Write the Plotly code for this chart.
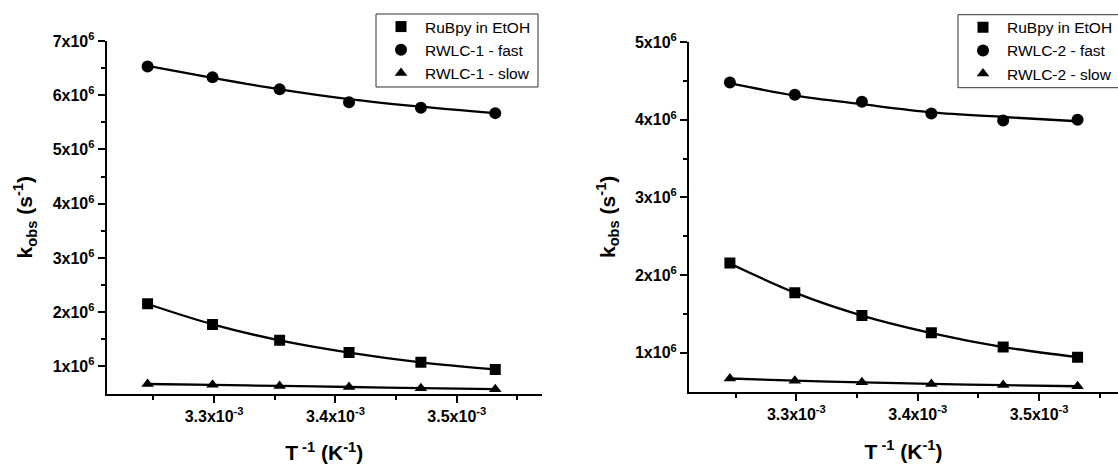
import plotly.graph_objects as go

# ---------------- data ----------------
inv_T = [3.2452e-3, 3.2987e-3, 3.3540e-3, 3.4112e-3, 3.4704e-3, 3.5317e-3]

# measured points
rubpy = [2.155e6, 1.772e6, 1.480e6, 1.257e6, 1.075e6, 0.944e6]
rwlc1_fast = [6.53e6, 6.33e6, 6.11e6, 5.87e6, 5.77e6, 5.67e6]
rwlc1_slow = [0.675e6, 0.66e6, 0.64e6, 0.62e6, 0.595e6, 0.58e6]
rwlc2_fast = [4.48e6, 4.32e6, 4.23e6, 4.08e6, 3.99e6, 4.00e6]
rwlc2_slow = [0.67e6, 0.64e6, 0.62e6, 0.60e6, 0.585e6, 0.57e6]

# fitted curves (at the same abscissae)
rubpy_fit = [2.150e6, 1.775e6, 1.480e6, 1.255e6, 1.075e6, 0.944e6]
rwlc1_fast_fit = [6.54e6, 6.32e6, 6.11e6, 5.93e6, 5.79e6, 5.67e6]
rwlc1_slow_fit = [0.675e6, 0.658e6, 0.64e6, 0.62e6, 0.598e6, 0.582e6]
rwlc2_fast_fit = [4.47e6, 4.31e6, 4.20e6, 4.095e6, 4.035e6, 3.98e6]
rwlc2_slow_fit = [0.67e6, 0.642e6, 0.62e6, 0.60e6, 0.585e6, 0.57e6]

names_left = ["RuBpy in EtOH", "RWLC-1 - fast", "RWLC-1 - slow"]
names_right = ["RuBpy in EtOH", "RWLC-2 - fast", "RWLC-2 - slow"]

x_tickvals = [3.3e-3, 3.4e-3, 3.5e-3]
x_ticktext = ["3.3x10<sup>-3</sup>", "3.4x10<sup>-3</sup>", "3.5x10<sup>-3</sup>"]
x_minor = [3.25e-3, 3.35e-3, 3.45e-3, 3.55e-3]

yl_tickvals = [1e6, 2e6, 3e6, 4e6, 5e6, 6e6, 7e6]
yl_ticktext = ["1x10<sup>6</sup>", "2x10<sup>6</sup>", "3x10<sup>6</sup>", "4x10<sup>6</sup>",
               "5x10<sup>6</sup>", "6x10<sup>6</sup>", "7x10<sup>6</sup>"]
yl_minor = [1.5e6, 2.5e6, 3.5e6, 4.5e6, 5.5e6, 6.5e6]

yr_tickvals = [1e6, 2e6, 3e6, 4e6, 5e6]
yr_ticktext = ["1x10<sup>6</sup>", "2x10<sup>6</sup>", "3x10<sup>6</sup>", "4x10<sup>6</sup>",
               "5x10<sup>6</sup>"]
yr_minor = [1.5e6, 2.5e6, 3.5e6, 4.5e6]

# ---------------- figure ----------------
W, H = 1118, 468
FONT = "Arial, Liberation Sans, sans-serif"
symbols = ["square", "circle", "triangle-up"]
msizes = [11, 12, 11]

fig = go.Figure()


def add_panel(points, fits, names, xa, ya, legend_id):
    for s, f, name, sym, ms in zip(points, fits, names, symbols, msizes):
        fig.add_trace(go.Scatter(
            x=inv_T, y=f, mode="lines", xaxis=xa, yaxis=ya,
            line=dict(color="black", width=2.3, shape="spline", smoothing=0.9),
            showlegend=False, hoverinfo="skip"))
        fig.add_trace(go.Scatter(
            x=inv_T, y=s, mode="markers", name=name, xaxis=xa, yaxis=ya,
            marker=dict(symbol=sym, size=ms, color="black"),
            legend=legend_id))


add_panel([rubpy, rwlc1_fast, rwlc1_slow], [rubpy_fit, rwlc1_fast_fit, rwlc1_slow_fit],
          names_left, "x", "y", "legend")
add_panel([rubpy, rwlc2_fast, rwlc2_slow], [rubpy_fit, rwlc2_fast_fit, rwlc2_slow_fit],
          names_right, "x2", "y2", "legend2")

tickfont = dict(family=FONT, size=16, color="black", weight="bold")
titlefont = dict(family=FONT, size=21, color="black", weight="bold")

common_axis = dict(
    showgrid=False, zeroline=False, showline=True, linecolor="black",
    linewidth=2, ticks="outside", ticklen=7, tickwidth=2, tickcolor="black",
    tickfont=tickfont, mirror=False,
)

x_px_per_unit = 1213500.0
xl0 = 3.2115e-3
left_x_dom = [106.7 / W, 541.7 / W]
right_x_dom = [689.0 / W, 1.0]
xr1 = xl0 + (W - 689.0) / x_px_per_unit
xl1 = xl0 + (541.7 - 106.7) / x_px_per_unit


def minor(vals):
    return dict(tickmode="array", tickvals=vals, ticks="outside",
                ticklen=4, tickwidth=2, tickcolor="black")


def box(x0, x1, y0, y1):
    return dict(type="rect", xref="paper", yref="paper",
                x0=x0 / W, x1=x1 / W, y0=1 - y1 / H, y1=1 - y0 / H,
                line=dict(color="#333", width=1), fillcolor="white", layer="below")


legend_common = dict(xanchor="left", yanchor="top", bgcolor="rgba(0,0,0,0)",
                     borderwidth=0, font=dict(family=FONT, size=15.5, color="black"),
                     itemwidth=38, tracegroupgap=0)

fig.update_layout(
    width=W, height=H,
    margin=dict(l=0, r=0, t=0, b=0, autoexpand=False),
    paper_bgcolor="white", plot_bgcolor="rgba(0,0,0,0)",
    font=dict(family=FONT, color="black"),
    xaxis=dict(common_axis, domain=left_x_dom, range=[xl0, xl1], anchor="y",
               tickmode="array", tickvals=x_tickvals, ticktext=x_ticktext,
               minor=minor(x_minor),
               title=dict(text="T<sup> -1</sup> (K<sup>-1</sup>)", font=titlefont, standoff=22)),
    yaxis=dict(common_axis, domain=[1 - 393.5 / H, 1 - 41.0 / H], range=[0.5e6, 7e6],
               anchor="x", tickmode="array", tickvals=yl_tickvals, ticktext=yl_ticktext,
               minor=minor(yl_minor),
               title=dict(text="k<sub>obs</sub> (s<sup>-1</sup>)", font=titlefont, standoff=14)),
    xaxis2=dict(common_axis, domain=right_x_dom, range=[xl0, xr1], anchor="y2",
                tickmode="array", tickvals=x_tickvals, ticktext=x_ticktext,
                minor=minor(x_minor),
                title=dict(text="T<sup> -1</sup> (K<sup>-1</sup>)", font=titlefont, standoff=22)),
    yaxis2=dict(common_axis, domain=[1 - 391.7 / H, 1 - 42.0 / H], range=[0.5e6, 5e6],
                anchor="x2", tickmode="array", tickvals=yr_tickvals, ticktext=yr_ticktext,
                minor=minor(yr_minor),
                title=dict(text="k<sub>obs</sub> (s<sup>-1</sup>)", font=titlefont, standoff=14)),
    legend=dict(legend_common, x=377 / W, y=1 - 10 / H),
    legend2=dict(legend_common, x=959 / W, y=1 - 10.7 / H),
    shapes=[box(376, 538, 14, 87), box(958, 1135, 14.7, 87.7)],
)

fig.write_html("out.html")
